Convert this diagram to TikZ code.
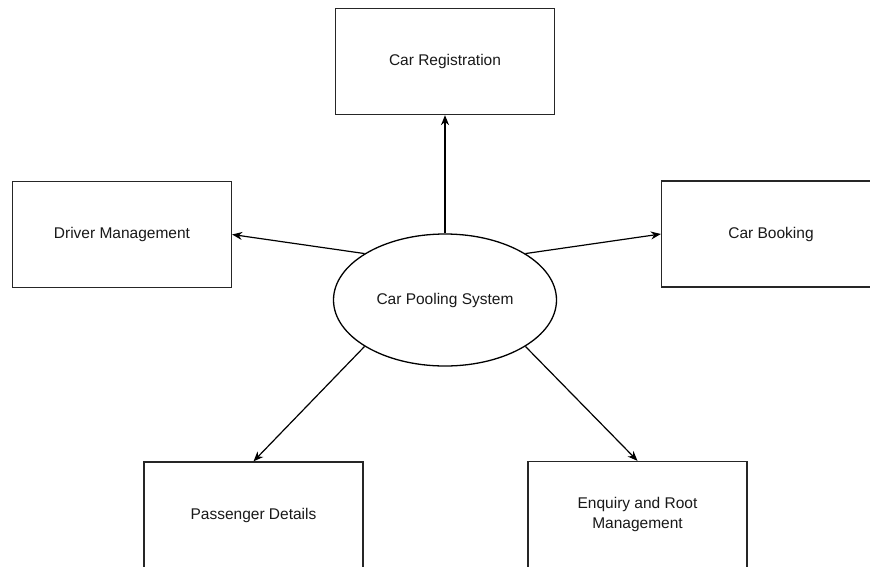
\documentclass[tikz,border=0pt]{standalone}
\usepackage{fontspec}
\setmainfont{Liberation Sans}
\usetikzlibrary{shapes.geometric,arrows.meta}
\begin{document}
\begin{tikzpicture}[x=1pt,y=-1pt,
  box/.style={draw=black!85,line width=1.3pt,minimum width=219pt,minimum height=106pt,inner sep=0pt,
    font=\fontsize{15.5}{20}\selectfont,text=black!90,align=center},
  oval/.style={ellipse,draw=black,line width=1.3pt,minimum width=223pt,minimum height=132pt,inner sep=0pt,
    font=\fontsize{15.5}{20}\selectfont,text=black!90},
  conn/.style={draw=black,line width=1.2pt,-{Stealth[length=10pt,width=8pt]}}]
\clip (0,0) rectangle (870,566);
\fill[white] (0,0) rectangle (870,566);
\node[box] (cr) at (445,61.5) {Car Registration};
\node[box] (drv) at (122,234.5) {Driver Management};
\node[box] (cb) at (771,234) {Car Booking};
\node[box] (pd) at (253.5,515) {Passenger Details};
\node[box] (enq) at (637.5,514.5) {Enquiry and Root\\Management};
\node[oval] (cps) at (445,300) {Car Pooling System};
\draw[conn] (cps.north) -- (cr.south);
\draw[conn] (cps.150) -- (drv.east);
\draw[conn] (cps.30) -- (cb.west);
\draw[conn] (cps.210) -- (pd.north);
\draw[conn] (cps.330) -- (enq.north);
\end{tikzpicture}
\end{document}
